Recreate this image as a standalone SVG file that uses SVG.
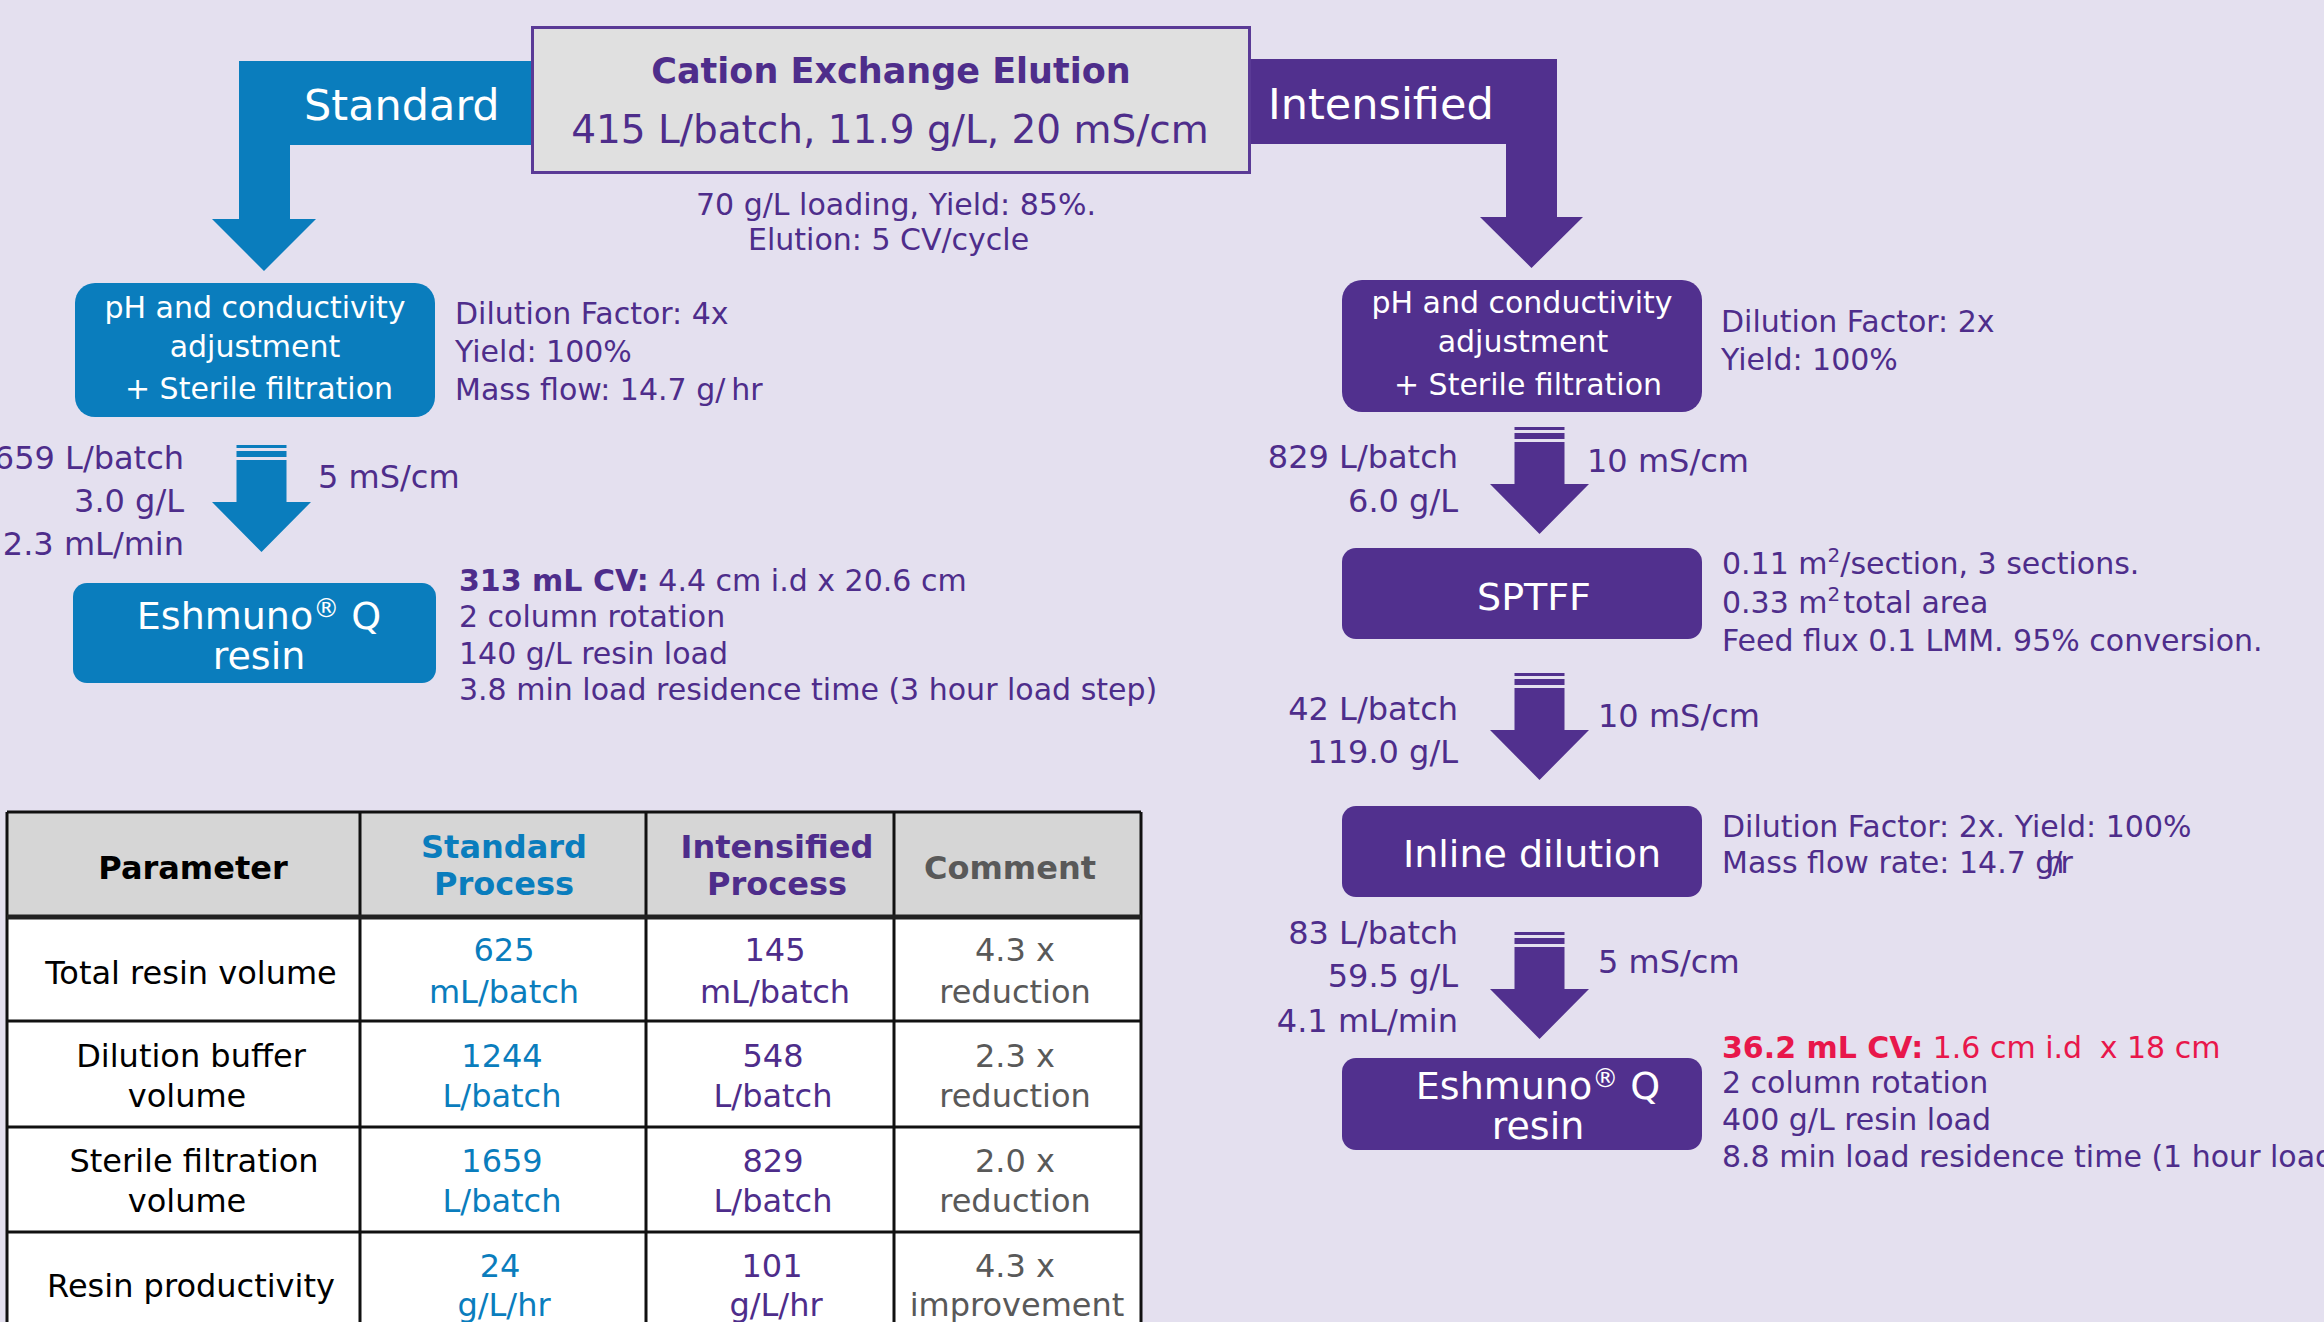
<svg xmlns="http://www.w3.org/2000/svg" width="2324" height="1322" viewBox="0 0 2324 1322">
  <style>
    text { font-family: "DejaVu Sans", Verdana, "Liberation Sans", sans-serif; }
    .std { fill: #0A7DBD; }
    .int { fill: #51308E; }
    .lbl { font-size: 43px; fill: #ffffff; }
    .box { font-size: 30px; fill: #ffffff; text-anchor: middle; }
    .ttl { font-size: 38px; fill: #ffffff; text-anchor: middle; }
    .info { font-size: 30px; fill: #4E2D8B; }
    .flow { font-size: 32px; fill: #4E2D8B; }
    .flowr { font-size: 32px; fill: #4E2D8B; text-anchor: end; }
    .red { fill: #E8174B; }
    .th { font-size: 32px; font-weight: bold; text-anchor: middle; }
    .td { font-size: 32px; text-anchor: middle; }
    .grid { stroke: #111111; stroke-width: 3; fill: none; }
  </style>
  <defs>
    <!-- striped down-arrow, origin at top centre -->
    <g id="flowArrow">
      <rect x="-25" y="0" width="50" height="3"/>
      <rect x="-25" y="6" width="50" height="6"/>
      <path d="M-25 15 H25 V57 H49.5 L0 107 L-49.5 57 H-25 Z"/>
    </g>
  </defs>

  <rect width="2324" height="1322" fill="#E4E0EF"/>

  <!-- connectors -->
  <g id="connectors">
    <path class="std" d="M239 61 H540 V145 H290 V219 H316 L264 271 L212 219 H239 Z"/>
    <path class="int" d="M1240 59 H1557 V217 H1583 L1531.5 268 L1480 217 H1506 V144 H1240 Z"/>
    <use href="#flowArrow" class="std" x="261.5" y="445"/>
    <use href="#flowArrow" class="int" x="1539.5" y="427"/>
    <use href="#flowArrow" class="int" x="1539.5" y="673"/>
    <use href="#flowArrow" class="int" x="1539.5" y="932"/>
    <text class="lbl" x="304" y="120">Standard</text>
    <text class="lbl" x="1268" y="119">Intensified</text>
  </g>

  <!-- source node -->
  <g id="cex-elution">
    <rect x="532.5" y="27.5" width="717" height="145" fill="#E0E0E0" stroke="#5A3A96" stroke-width="3"/>
    <text x="891" y="83" font-size="35" font-weight="bold" fill="#4E2D8B" text-anchor="middle">Cation Exchange Elution</text>
    <text x="890" y="143" font-size="39" fill="#4E2D8B" text-anchor="middle">415 L/batch, 11.9 g/L, 20 mS/cm</text>
    <text class="info" x="696" y="215">70 g/L loading, Yield: 85%.</text>
    <text class="info" x="748" y="250">Elution: 5 CV/cycle</text>
  </g>

  <!-- standard process -->
  <g id="std-adjust">
    <rect class="std" x="75" y="283" width="360" height="134" rx="20"/>
    <text class="box" x="255" y="318">pH and conductivity</text>
    <text class="box" x="255" y="357">adjustment</text>
    <text class="box" x="259" y="399">+ Sterile filtration</text>
    <text class="info" x="455" y="324">Dilution Factor: 4x</text>
    <text class="info" x="455" y="362">Yield: 100%</text>
    <text class="info" x="455" y="400">Mass flow: 14.7 g/<tspan dx="6">hr</tspan></text>
  </g>

  <g id="std-flow">
    <text class="flowr" x="184" y="469">1659 L/batch</text>
    <text class="flowr" x="184" y="512">3.0 g/L</text>
    <text class="flowr" x="184" y="555">2.3 mL/min</text>
    <text class="flow" x="318" y="488">5 mS/cm</text>
  </g>

  <g id="std-resin">
    <rect class="std" x="73" y="583" width="363" height="100" rx="14"/>
    <text class="ttl" x="259" y="629" font-size="37">Eshmuno<tspan font-size="26" dy="-12">®</tspan><tspan dy="12"> Q</tspan></text>
    <text class="ttl" x="259" y="669" font-size="37">resin</text>
    <text class="info" x="459" y="591"><tspan font-weight="bold">313 mL CV:</tspan> 4.4 cm i.d x 20.6 cm</text>
    <text class="info" x="459" y="627">2 column rotation</text>
    <text class="info" x="459" y="664">140 g/L resin load</text>
    <text class="info" x="459" y="700">3.8 min load residence time (3 hour load step)</text>
  </g>

  <!-- intensified process -->
  <g id="int-adjust">
    <rect class="int" x="1342" y="280" width="360" height="132" rx="20"/>
    <text class="box" x="1522" y="313">pH and conductivity</text>
    <text class="box" x="1523" y="352">adjustment</text>
    <text class="box" x="1528" y="395">+ Sterile filtration</text>
    <text class="info" x="1721" y="332">Dilution Factor: 2x</text>
    <text class="info" x="1721" y="370">Yield: 100%</text>
  </g>

  <g id="int-flow-1">
    <text class="flowr" x="1458" y="468">829 L/batch</text>
    <text class="flowr" x="1458" y="512">6.0 g/L</text>
    <text class="flow" x="1587" y="472">10 mS/cm</text>
  </g>

  <g id="int-sptff">
    <rect class="int" x="1342" y="548" width="360" height="91" rx="14"/>
    <text class="ttl" x="1534" y="610">SPTFF</text>
    <text class="info" x="1722" y="574">0.11 m<tspan font-size="20" dy="-12">2</tspan><tspan dy="12">/section, 3 sections.</tspan></text>
    <text class="info" x="1722" y="613">0.33 m<tspan font-size="20" dy="-12">2</tspan><tspan dy="12" dx="3">total area</tspan></text>
    <text class="info" x="1722" y="651">Feed flux 0.1 LMM. 95% conversion.</text>
  </g>

  <g id="int-flow-2">
    <text class="flowr" x="1458" y="720">42 L/batch</text>
    <text class="flowr" x="1458" y="763">119.0 g/L</text>
    <text class="flow" x="1598" y="727">10 mS/cm</text>
  </g>

  <g id="int-dilution">
    <rect class="int" x="1342" y="806" width="360" height="91" rx="14"/>
    <text class="ttl" x="1532" y="867">Inline dilution</text>
    <text class="info" x="1722" y="837">Dilution Factor: 2x. Yield: 100%</text>
    <text class="info" x="1722" y="873">Mass flow rate: 14.7 g<tspan dx="-9">h</tspan><tspan dx="-12">/</tspan><tspan dx="-2">r</tspan></text>
  </g>

  <g id="int-flow-3">
    <text class="flowr" x="1458" y="944">83 L/batch</text>
    <text class="flowr" x="1458" y="987">59.5 g/L</text>
    <text class="flowr" x="1458" y="1032">4.1 mL/min</text>
    <text class="flow" x="1598" y="973">5 mS/cm</text>
  </g>

  <g id="int-resin">
    <rect class="int" x="1342" y="1058" width="360" height="92" rx="14"/>
    <text class="ttl" x="1538" y="1099" font-size="37">Eshmuno<tspan font-size="26" dy="-12">®</tspan><tspan dy="12"> Q</tspan></text>
    <text class="ttl" x="1538" y="1139" font-size="37">resin</text>
    <text class="info red" x="1722" y="1058"><tspan font-weight="bold">36.2 mL CV:</tspan> 1.6 cm i.d <tspan dx="8">x 18 cm</tspan></text>
    <text class="info" x="1722" y="1093">2 column rotation</text>
    <text class="info" x="1722" y="1130">400 g/L resin load</text>
    <text class="info" x="1722" y="1167">8.8 min load residence time (1 hour load step)</text>
  </g>

  <!-- comparison table -->
  <g id="comparison-table">
    <rect x="7" y="812" width="1134" height="105" fill="#D6D6D6"/>
    <rect x="7" y="917" width="1134" height="420" fill="#FFFFFF"/>
    <path class="grid" d="M7 812 H1141 M7 1021 H1141 M7 1127 H1141 M7 1232 H1141 M7 812 V1330 M360 812 V1330 M646 812 V1330 M894 812 V1330 M1141 812 V1330"/>
    <path d="M7 917 H1141" stroke="#222222" stroke-width="5"/>

    <text class="th" x="193" y="879" fill="#000000">Parameter</text>
    <text class="th" x="504" y="858" fill="#0A7DBD">Standard</text>
    <text class="th" x="504" y="895" fill="#0A7DBD">Process</text>
    <text class="th" x="777" y="858" fill="#4E2D8B">Intensified</text>
    <text class="th" x="777" y="895" fill="#4E2D8B">Process</text>
    <text class="th" x="1010" y="879" fill="#595959">Comment</text>

    <text class="td" x="191" y="984" fill="#000000">Total resin volume</text>
    <text class="td" x="504" y="961" fill="#0A7DBD">625</text>
    <text class="td" x="504" y="1003" fill="#0A7DBD">mL/batch</text>
    <text class="td" x="775" y="961" fill="#4E2D8B">145</text>
    <text class="td" x="775" y="1003" fill="#4E2D8B">mL/batch</text>
    <text class="td" x="1015" y="961" fill="#595959">4.3 x</text>
    <text class="td" x="1015" y="1003" fill="#595959">reduction</text>

    <text class="td" x="191" y="1067" fill="#000000">Dilution buffer</text>
    <text class="td" x="187" y="1107" fill="#000000">volume</text>
    <text class="td" x="502" y="1067" fill="#0A7DBD">1244</text>
    <text class="td" x="502" y="1107" fill="#0A7DBD">L/batch</text>
    <text class="td" x="773" y="1067" fill="#4E2D8B">548</text>
    <text class="td" x="773" y="1107" fill="#4E2D8B">L/batch</text>
    <text class="td" x="1015" y="1067" fill="#595959">2.3 x</text>
    <text class="td" x="1015" y="1107" fill="#595959">reduction</text>

    <text class="td" x="194" y="1172" fill="#000000">Sterile filtration</text>
    <text class="td" x="187" y="1212" fill="#000000">volume</text>
    <text class="td" x="502" y="1172" fill="#0A7DBD">1659</text>
    <text class="td" x="502" y="1212" fill="#0A7DBD">L/batch</text>
    <text class="td" x="773" y="1172" fill="#4E2D8B">829</text>
    <text class="td" x="773" y="1212" fill="#4E2D8B">L/batch</text>
    <text class="td" x="1015" y="1172" fill="#595959">2.0 x</text>
    <text class="td" x="1015" y="1212" fill="#595959">reduction</text>

    <text class="td" x="191" y="1297" fill="#000000">Resin productivity</text>
    <text class="td" x="500" y="1277" fill="#0A7DBD">24</text>
    <text class="td" x="504" y="1316" fill="#0A7DBD">g/L/hr</text>
    <text class="td" x="772" y="1277" fill="#4E2D8B">101</text>
    <text class="td" x="776" y="1316" fill="#4E2D8B">g/L/hr</text>
    <text class="td" x="1015" y="1277" fill="#595959">4.3 x</text>
    <text class="td" x="1017" y="1316" fill="#595959">improvement</text>
  </g>
</svg>
